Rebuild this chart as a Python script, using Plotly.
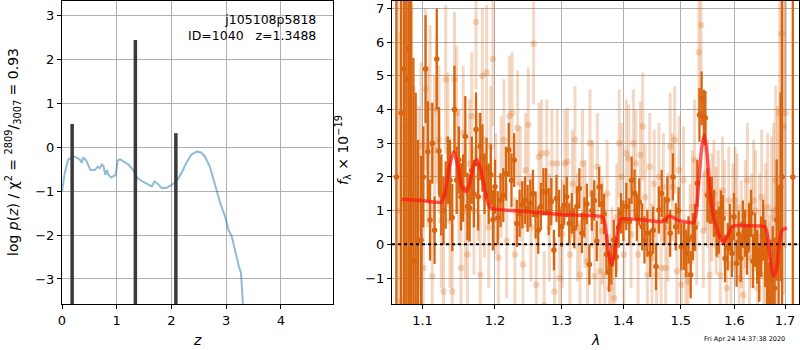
import math
import plotly.graph_objects as go

# ---------------- left panel: p(z) ----------------
z_grid = [0.0, 0.05, 0.11, 0.20, 0.265, 0.33, 0.36, 0.39, 0.44, 0.48, 0.52, 0.60, 0.65, 0.69,
          0.73, 0.76, 0.79, 0.82, 0.85, 0.90, 0.98, 1.02, 1.06, 1.13, 1.22, 1.30, 1.38, 1.47,
          1.56, 1.64, 1.69, 1.75, 1.82, 1.90, 1.99, 2.09, 2.18, 2.27, 2.36, 2.46, 2.54, 2.61,
          2.70, 2.80, 2.89, 2.98, 3.04, 3.10, 3.17, 3.23, 3.27, 3.29, 3.31]
log_pz = [-1.00, -0.59, -0.29, -0.21, -0.23, -0.29, -0.35, -0.23, -0.30, -0.40, -0.52, -0.52,
          -0.44, -0.48, -0.39, -0.44, -0.63, -0.52, -0.63, -0.69, -0.63, -0.30, -0.27, -0.33,
          -0.40, -0.52, -0.70, -0.78, -0.83, -0.89, -0.78, -0.83, -0.93, -0.93, -0.87, -0.77,
          -0.59, -0.36, -0.17, -0.10, -0.12, -0.21, -0.44, -0.89, -1.27, -1.58, -1.88, -2.03,
          -2.41, -2.71, -2.86, -3.24, -3.70]

peak_z = [0.185, 1.34, 2.08]
peak_h = [0.53, 2.44, 0.32]

# ---------------- right panel: spectrum ----------------
dark_lam = [1.066, 1.072, 1.076, 1.079, 1.082, 1.085, 1.088, 1.091, 1.094, 1.098,
            1.101, 1.104, 1.107, 1.110, 1.113, 1.116, 1.119, 1.122, 1.125, 1.128,
            1.131, 1.134, 1.137, 1.140, 1.143, 1.146, 1.149, 1.152, 1.155, 1.158,
            1.161, 1.164, 1.167, 1.170, 1.173, 1.176, 1.179, 1.182, 1.185, 1.188,
            1.191, 1.194, 1.197, 1.200, 1.204, 1.208, 1.212, 1.216, 1.220, 1.224,
            1.228, 1.232, 1.236, 1.240, 1.244, 1.248, 1.252, 1.256, 1.260, 1.264,
            1.268, 1.272, 1.276, 1.280, 1.284, 1.288, 1.292, 1.296, 1.300, 1.304,
            1.308, 1.312, 1.316, 1.320, 1.324, 1.328, 1.332, 1.336, 1.340, 1.344,
            1.348, 1.352, 1.356, 1.360, 1.364, 1.368, 1.372, 1.376, 1.380, 1.384,
            1.388, 1.392, 1.396, 1.400, 1.405, 1.410, 1.414, 1.419, 1.423, 1.427,
            1.432, 1.436, 1.441, 1.446, 1.451, 1.456, 1.461, 1.466, 1.471, 1.476,
            1.481, 1.486, 1.491, 1.496, 1.501, 1.506, 1.510, 1.514, 1.518, 1.522,
            1.526, 1.530, 1.534, 1.538, 1.542, 1.545, 1.549, 1.553, 1.557, 1.561,
            1.566, 1.570, 1.574, 1.578, 1.582, 1.587, 1.591, 1.595, 1.599, 1.604,
            1.608, 1.612, 1.616, 1.620, 1.624, 1.628, 1.632, 1.636, 1.640, 1.644,
            1.648, 1.652, 1.656, 1.660, 1.664, 1.667, 1.671, 1.675, 1.679, 1.683,
            1.687, 1.691, 1.694, 1.716]
dark_flux = [2.0, 3.9, 5.2, 4.9, 5.8, 1.5, -0.47, -0.5, 0.1, 0.13,
             2.0, 5.2, 2.75, 0.72, 3.0, 0.42, 5.5, 2.77, 1.46, 1.0,
             1.46, 2.2, 1.9, 0.8, 4.0, 1.9, 2.5, 1.41, 1.67, 3.2,
             1.12, 1.08, 2.2, 1.5, 3.41, 1.41, 2.9, 2.56, 1.8, 2.26,
             1.5, 2.06, 0.72, 1.71, 0.78, 1.31, 1.46, 2.1, 2.8, 1.9,
             2.5, 0.62, 0.92, 1.17, 1.31, 1.07, 1.22, 1.51, 0.87, 0.42,
             1.12, 1.56, 1.56, 0.97, 1.27, -0.17, 1.36, 0.92, 0.52, 1.17,
             1.41, 0.62, 0.92, 0.48, 1.12, 1.66, 0.34, 0.8, 1.2, -0.6,
             1.0, 1.3, 0.1, 1.7, 1.2, 0.9, -0.3, -0.81, -0.6, 0.13,
             -0.37, 0.5, 0.92, 0.7, 1.12, 0.67, 1.9, 1.52, 0.8, 1.26,
             0.52, 0.13, 0.33, -0.27, 0.42, -0.66, 1.02, 1.51, 0.72, 1.31,
             0.33, 2.0, 0.52, 1.0, -0.07, -0.07, -0.27, 0.13, -0.9, 0.23,
             0.5, 1.81, 3.84, 4.33, 3.79, 3.75, 1.46, 1.31, 1.31, 0.92,
             0.33, 0.42, 0.9, 0.77, -0.42, -0.07, 0.5, -0.27, 0.82, -0.56,
             0.3, -0.42, 0.6, 0.33, -0.2, 0.52, 0.92, -0.5, 0.13, -0.37,
             -0.9, -0.07, 0.42, -0.27, -0.8, -1.65, -1.06, -0.76, -1.3, 0.72,
             -0.5, 1.71, 2.0, 2.0]
dark_err = [12, 9, 9, 7, 8, 8, 6, 5, 3, 2.5,
            1.5, 1.6, 1.5, 1.2, 1.2, 1.0, 1.5, 1.3, 1.2, 1.0,
            1.0, 1.0, 1.2, 1.0, 1.3, 1.0, 1.0, 1.0, 1.0, 1.2,
            1.0, 1.0, 1.0, 1.0, 1.1, 1.0, 1.0, 1.0, 0.9, 0.9,
            0.9, 0.9, 0.9, 0.8, 0.8, 0.8, 0.8, 0.8, 0.8, 0.8,
            0.8, 0.7, 0.7, 0.7, 0.7, 0.7, 0.7, 0.7, 0.7, 0.7,
            0.7, 0.7, 0.7, 0.7, 0.7, 0.6, 0.7, 0.7, 0.6, 0.6,
            0.6, 0.6, 0.6, 0.6, 0.6, 0.6, 0.6, 0.6, 0.6, 0.6,
            0.6, 0.6, 0.6, 0.6, 0.6, 0.6, 0.6, 0.6, 0.6, 0.6,
            0.6, 0.6, 0.6, 0.6, 0.7, 0.7, 0.7, 0.7, 0.7, 0.7,
            0.7, 0.7, 0.7, 0.7, 0.7, 0.7, 0.7, 0.7, 0.7, 0.7,
            0.7, 0.7, 0.7, 0.7, 0.7, 0.7, 0.7, 0.7, 0.7, 0.7,
            0.7, 0.7, 0.8, 0.8, 0.8, 0.8, 0.8, 0.7, 0.7, 0.7,
            0.7, 0.7, 0.7, 0.7, 0.7, 0.7, 0.7, 0.7, 0.7, 0.7,
            0.7, 0.7, 0.7, 0.7, 0.7, 0.7, 0.7, 0.8, 0.8, 0.8,
            0.8, 0.9, 0.9, 1.0, 1.0, 1.1, 1.2, 1.3, 1.5, 1.8,
            2.2, 2.8, 12, 12]

light_lam = [1.068, 1.071, 1.074, 1.077, 1.080, 1.083, 1.086, 1.089, 1.092, 1.095,
             1.098, 1.101, 1.104, 1.107, 1.110, 1.113, 1.116, 1.119, 1.122, 1.125,
             1.128, 1.131, 1.134, 1.137, 1.140, 1.143, 1.146, 1.149, 1.152, 1.155,
             1.158, 1.161, 1.164, 1.167, 1.170, 1.173, 1.176, 1.179, 1.182, 1.185,
             1.188, 1.191, 1.194, 1.197, 1.201, 1.205, 1.209, 1.213, 1.217, 1.221,
             1.225, 1.229, 1.233, 1.237, 1.241, 1.245, 1.249, 1.253, 1.257, 1.261,
             1.265, 1.269, 1.273, 1.277, 1.281, 1.285, 1.289, 1.293, 1.297, 1.301,
             1.305, 1.309, 1.313, 1.317, 1.321, 1.325, 1.329, 1.333, 1.337, 1.341,
             1.345, 1.349, 1.353, 1.357, 1.361, 1.365, 1.369, 1.373, 1.377, 1.381,
             1.385, 1.389, 1.393, 1.397, 1.401, 1.405, 1.409, 1.413, 1.417, 1.421,
             1.425, 1.429, 1.433, 1.437, 1.441, 1.445, 1.449, 1.453, 1.457, 1.461,
             1.465, 1.469, 1.473, 1.477, 1.481, 1.485, 1.489, 1.493, 1.497, 1.501,
             1.505, 1.509, 1.513, 1.517, 1.521, 1.525, 1.529, 1.533, 1.537, 1.541,
             1.545, 1.549, 1.553, 1.557, 1.561, 1.565, 1.569, 1.573, 1.577, 1.581,
             1.585, 1.589, 1.593, 1.597, 1.601, 1.605, 1.609, 1.613, 1.617, 1.621,
             1.625, 1.629, 1.633, 1.637, 1.641, 1.645, 1.649, 1.653, 1.657, 1.661,
             1.665, 1.669, 1.673, 1.677, 1.681, 1.685, 1.689, 1.693, 1.697, 1.701]
light_flux = [1.0, -1.7, 1.2, 3.5, 2.2, 1.3, 3.1, 1.2, -1.7, 1.3,
              2.9, -0.7, 4.6, 2.9, 4.1, -0.95, 2.8, 4.0, 3.1, 0.7,
              -1.4, 4.9, 3.1, 0.7, -1.4, 4.9, 3.9, 2.0, -0.7, 3.3,
              1.0, -0.3, 2.4, 3.8, 1.0, 6.6, 2.0, -0.9, 5.0, 1.4,
              5.1, 0.5, 2.9, 5.5, 1.5, -0.4, 2.0, 3.1, 0.1, 3.8,
              3.9, -0.3, 3.45, 1.8, -0.6, 2.2, 3.55, 0.5, 5.95, -1.2,
              2.6, 2.7, -1.8, 2.7, 0.5, 2.4, -1.4, 2.4, -1.0, 0.3,
              2.4, 2.45, -0.3, 1.8, 3.1, 0.5, -0.9, 2.4, 0.9, -0.5,
              3.0, 1.5, -0.95, 2.3, -0.8, 0.4, -0.9, 1.5, -1.3, -0.5,
              -1.6, 0.8, 3.0, 2.0, -0.3, 2.7, 2.55, 0.3, 3.0, 2.4,
              -0.3, 2.65, 3.5, 1.4, -0.9, 2.3, -0.4, 1.8, -0.9, 2.0,
              -0.7, 1.7, -0.7, 0.5, 2.9, 1.7, 3.1, -0.8, 2.2, -1.2,
              1.9, -0.9, -1.1, 0.2, 1.1, 2.5, 0.6, 5.7, 6.5, 0.4,
              2.1, 1.5, -0.9, 1.1, 1.5, 0.7, 1.2, -0.9, 1.6, 0.9,
              -1.3, 1.3, -0.6, 0.8, 1.3, 1.1, -1.0, 0.3, -1.5, 0.9,
              1.9, -0.4, 0.4, 1.3, 1.0, -1.3, 0.2, 1.4, -0.9, 0.3,
              1.1, -1.6, 0.8, 1.0, 1.9, 1.1, 3.9, 6.25, 3.5, 3.9]
light_err = [10, 8, 8, 8, 6, 5, 4, 3.5, 3, 2.8,
             2.5, 2.5, 2.4, 2.4, 2.4, 2.2, 2.2, 2.2, 2.2, 2.0,
             2.0, 2.2, 2.0, 2.0, 2.0, 2.0, 2.0, 2.0, 2.0, 2.0,
             2.0, 2.0, 1.9, 1.9, 1.9, 2.0, 1.9, 1.8, 2.0, 1.8,
             2.0, 1.8, 1.8, 2.0, 1.8, 1.8, 1.8, 1.8, 1.7, 1.8,
             1.8, 1.7, 1.7, 1.7, 1.7, 1.7, 1.7, 1.6, 1.8, 1.6,
             1.6, 1.6, 1.6, 1.6, 1.6, 1.6, 1.6, 1.6, 1.6, 1.6,
             1.6, 1.6, 1.6, 1.6, 1.6, 1.6, 1.6, 1.6, 1.6, 1.6,
             1.6, 1.6, 1.6, 1.6, 1.6, 1.6, 1.6, 1.6, 1.6, 1.6,
             1.6, 1.6, 1.6, 1.6, 1.6, 1.6, 1.6, 1.6, 1.6, 1.6,
             1.6, 1.6, 1.6, 1.6, 1.6, 1.6, 1.6, 1.6, 1.6, 1.6,
             1.6, 1.6, 1.6, 1.6, 1.6, 1.6, 1.6, 1.6, 1.6, 1.6,
             1.6, 1.6, 1.6, 1.6, 1.7, 1.8, 1.8, 2.0, 2.0, 1.7,
             1.7, 1.6, 1.6, 1.6, 1.6, 1.6, 1.6, 1.6, 1.6, 1.6,
             1.6, 1.6, 1.6, 1.6, 1.6, 1.6, 1.6, 1.6, 1.6, 1.6,
             1.7, 1.7, 1.7, 1.8, 1.8, 1.8, 1.9, 2.0, 2.0, 2.1,
             2.2, 2.3, 2.4, 2.6, 2.8, 3.0, 3.6, 4.5, 5.0, 4.0]

model_lam = [1.073, 1.100, 1.125, 1.130, 1.136, 1.142, 1.148, 1.153, 1.159, 1.164,
             1.169, 1.174, 1.180, 1.186, 1.191, 1.196, 1.250, 1.300, 1.366, 1.370,
             1.375, 1.380, 1.385, 1.390, 1.396, 1.430, 1.466, 1.472, 1.479, 1.486,
             1.494, 1.510, 1.523, 1.528, 1.533, 1.538, 1.543, 1.548, 1.553, 1.558,
             1.564, 1.571, 1.579, 1.587, 1.594, 1.600, 1.630, 1.660, 1.665, 1.670,
             1.676, 1.682, 1.688, 1.694, 1.704]
model_flux = [1.34, 1.30, 1.25, 1.50, 2.30, 2.75, 2.30, 1.70, 1.56, 1.80,
              2.30, 2.52, 2.20, 1.55, 1.15, 1.06, 0.97, 0.88, 0.81, 0.55,
              -0.20, -0.61, -0.30, 0.35, 0.75, 0.73, 0.67, 0.72, 0.84, 0.80,
              0.72, 0.66, 0.64, 0.95, 1.90, 2.85, 3.24, 2.70, 1.70, 1.00,
              0.60, 0.25, 0.05, 0.25, 0.50, 0.55, 0.55, 0.52, 0.20, -0.40,
              -0.95, -0.80, 0.00, 0.42, 0.49]

z_ticks = [0, 1, 2, 3, 4]
lam_ticks = [1.1, 1.2, 1.3, 1.4, 1.5, 1.6, 1.7]
lam_range = [1.0604, 1.7288]

DARK = "rgb(217,101,15)"
LIGHT = "rgba(217,101,15,0.25)"
FONT = "DejaVu Sans"

fig = go.Figure()

fig.add_trace(go.Scatter(x=z_grid, y=log_pz, mode="lines",
                         line=dict(color="rgba(31,119,180,0.5)", width=2),
                         xaxis="x", yaxis="y", showlegend=False))
for zz, hh in zip(peak_z, peak_h):
    fig.add_trace(go.Scatter(x=[zz, zz], y=[-3.7, hh], mode="lines",
                             line=dict(color="#3a3a3a", width=3.5),
                             xaxis="x", yaxis="y", showlegend=False))

fig.add_trace(go.Scatter(x=light_lam, y=light_flux, mode="markers",
                         marker=dict(color=LIGHT, size=6.5, line=dict(width=0)),
                         error_y=dict(type="data", array=light_err, color=LIGHT,
                                      thickness=3, width=0),
                         xaxis="x2", yaxis="y2", showlegend=False))
fig.add_trace(go.Scatter(x=dark_lam, y=dark_flux, mode="markers",
                         marker=dict(color=DARK, size=5.5, line=dict(width=0)),
                         error_y=dict(type="data", array=dark_err, color=DARK,
                                      thickness=2.3, width=0),
                         xaxis="x2", yaxis="y2", showlegend=False))
fig.add_trace(go.Scatter(x=lam_range, y=[0, 0], mode="lines",
                         line=dict(color="black", width=2, dash="dot"),
                         xaxis="x2", yaxis="y2", showlegend=False))
fig.add_trace(go.Scatter(x=model_lam, y=model_flux, mode="lines",
                         line=dict(color="rgba(255,20,20,0.7)", width=3.5,
                                   shape="spline", smoothing=0.5),
                         xaxis="x2", yaxis="y2", showlegend=False))

axis_common = dict(showgrid=True, gridcolor="#b0b0b0", gridwidth=1,
                   showline=True, linecolor="black", linewidth=1, mirror=True,
                   ticks="outside", ticklen=4, tickcolor="black",
                   tickfont=dict(family=FONT, size=13, color="black"),
                   zeroline=False, automargin=False)

ML, MR, MT, MB = 62, 1, 1, 46
W, H = 800, 350
PW = W - ML - MR


def xdom(a, b):
    return [(a - ML) / PW, (b - ML) / PW]


def ann_title(text, x_px, y_px, angle=0, size=14):
    return dict(text=text, xref="paper", yref="paper",
                x=(x_px - ML) / PW, y=(H - MB - y_px) / (H - MT - MB),
                xanchor="center", yanchor="middle", textangle=angle,
                showarrow=False, font=dict(family=FONT, size=size, color="black"))


fig.update_layout(
    width=W, height=H,
    margin=dict(l=ML, r=MR, t=MT, b=MB),
    paper_bgcolor="white", plot_bgcolor="white",
    font=dict(family=FONT, color="black"),
    hovermode=False,
    xaxis=dict(domain=xdom(62, 333), range=[0, 4.95], tickvals=z_ticks,
               anchor="y", **axis_common),
    yaxis=dict(domain=[0, 1], range=[-3.57, 3.33], dtick=1,
               anchor="x", **axis_common),
    xaxis2=dict(domain=xdom(392, 799), type="log",
                range=[math.log10(lam_range[0]), math.log10(lam_range[1])],
                tickvals=lam_ticks, ticktext=[str(t) for t in lam_ticks],
                anchor="y2", **axis_common),
    yaxis2=dict(domain=[0, 1], range=[-1.77, 7.22], dtick=1,
                anchor="x2", **axis_common),
    annotations=[
        ann_title("<i>z</i>", 197, 340),
        ann_title("<i>λ</i>", 595, 340),
        ann_title("log <i>p</i>(<i>z</i>) / χ<sup>2</sup> = <sup>2809</sup>/<sub>3007</sub> = 0.93",
                  13, 152, angle=-90),
        ann_title("<i>f</i><sub>λ</sub> × 10<sup>−19</sup>", 343, 150, angle=-90),
        dict(text="j105108p5818<br>ID=1040   z=1.3488", xref="x domain", yref="y domain",
             x=0.945, y=0.97, xanchor="right", yanchor="top", align="right",
             showarrow=False, font=dict(family=FONT, size=12.5, color="black")),
        ann_title("Fri Apr 24 14:37:38 2020", 744, 339, size=6.5),
    ],
)

fig.write_html("out.html",
               config={"displayModeBar": False},
               post_script="document.body.style.margin='0';document.body.style.overflow='hidden';")
